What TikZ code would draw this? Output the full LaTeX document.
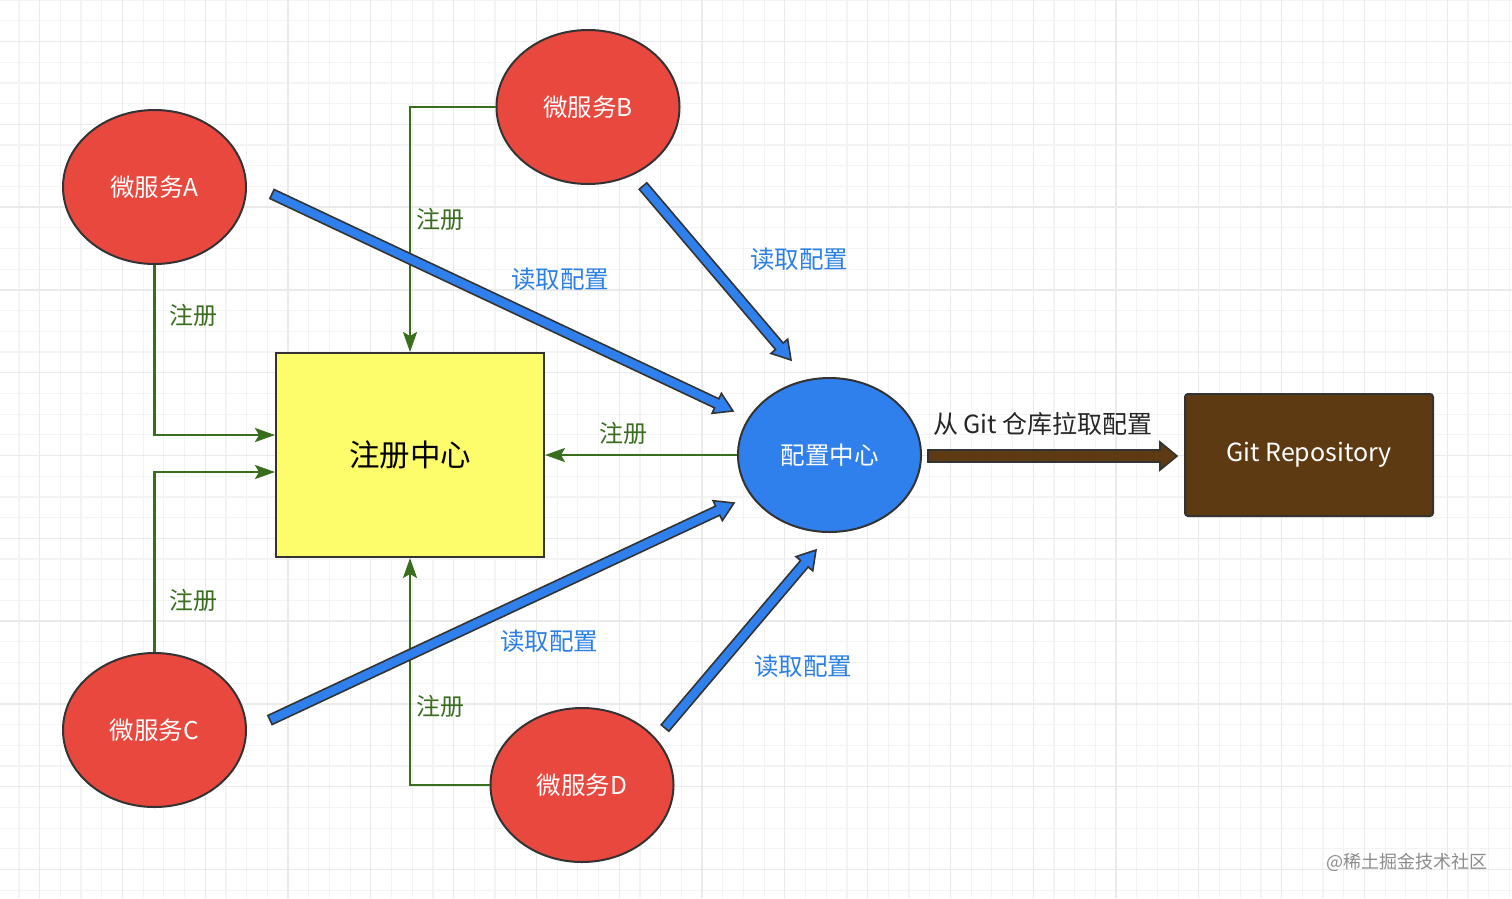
\documentclass[tikz,border=0pt]{standalone}
\usepackage{fontspec}
\setmainfont{Noto Sans CJK SC}
\usetikzlibrary{shapes.geometric,arrows.meta,calc}
\definecolor{svcred}{HTML}{E9483F}
\definecolor{cfgblue}{HTML}{2F80ED}
\definecolor{regyellow}{HTML}{FDFC6A}
\definecolor{gitbrown}{HTML}{5D3A12}
\definecolor{outl}{HTML}{333333}
\definecolor{regreen}{HTML}{3A6E1F}
\definecolor{lblblue}{HTML}{2C7FE3}
\definecolor{gridminor}{HTML}{F3F3F3}
\definecolor{gridmajor}{HTML}{EAEAEA}
\tikzset{
  svc/.style={ellipse, draw=outl, line width=2pt, fill=svcred, minimum width=183pt, minimum height=154pt, inner sep=0pt, text=white, font=\fontsize{24.5}{27}\selectfont},
  cfg/.style={ellipse, draw=outl, line width=2pt, fill=cfgblue, minimum width=183pt, minimum height=154pt, inner sep=0pt, text=white, font=\fontsize{24.5}{27}\selectfont},
  regbox/.style={rectangle, draw=outl, line width=2pt, fill=regyellow, minimum width=268pt, minimum height=204pt, inner sep=0pt, font=\fontsize{30.5}{33}\selectfont},
  gitbox/.style={rectangle, rounded corners=3pt, draw=outl, line width=2pt, fill=gitbrown, minimum width=248pt, minimum height=122pt, inner sep=0pt, text=white, font=\fontsize{25}{28}\selectfont},
  regline/.style={draw=regreen, line width=2.5pt, -{Stealth[length=20pt,width=14pt,inset=4pt]}},
  reglbl/.style={text=regreen, font=\fontsize{24}{27}\selectfont, inner sep=0pt},
  readlbl/.style={text=lblblue, font=\fontsize{24.5}{27}\selectfont, inner sep=0pt},
  gitlbl/.style={text=black!85, font=\fontsize{25}{28}\selectfont, inner sep=0pt},
  wmark/.style={text=black!45, font=\fontsize{18}{20}\selectfont, inner sep=0pt},
}
% #1 from, #2 to, #3 fill, #4 shaft half width, #5 head half width, #6 head length
\newcommand\fatarrow[6]{%
  \coordinate (fa-h) at ($(#2)!#6!(#1)$);
  \draw[fill=#3, draw=outl, line width=1.6pt, line join=miter]
    ($(#1)!#4!90:(#2)$) -- ($(fa-h)!#4!-90:(#1)$) -- ($(fa-h)!#5!-90:(#1)$) -- (#2)
    -- ($(fa-h)!#5!90:(#1)$) -- ($(fa-h)!#4!90:(#1)$) -- ($(#1)!#4!-90:(#2)$) -- cycle;
}
\begin{document}
\begin{tikzpicture}[x=1pt,y=-1pt]
\useasboundingbox (0,0) rectangle (1512,898);
\fill[white] (0,0) rectangle (1512,898);
% grid
\foreach \i in {-2,...,71} {\draw[gridminor, line width=1.2pt] ({39.6+\i*20.7},0) -- ({39.6+\i*20.7},898);}
\foreach \i in {-2,...,42} {\draw[gridminor, line width=1.2pt] (0,{41.5+\i*20.7}) -- (1512,{41.5+\i*20.7});}
\foreach \i in {0,...,18} {\draw[gridmajor, line width=1.3pt] ({39.6+\i*82.8},0) -- ({39.6+\i*82.8},898);}
\foreach \i in {-1,...,10} {\draw[gridmajor, line width=1.3pt] (0,{41.5+\i*82.8}) -- (1512,{41.5+\i*82.8});}

% nodes
\node[regbox] (Z) at (410,455) {注册中心};
\node[svc] (A) at (154.5,187) {微服务A};
\node[svc] (B) at (588,107) {微服务B};
\node[svc] (C) at (154.5,730) {微服务C};
\node[svc] (D) at (582,785) {微服务D};
\node[cfg] (G) at (829.5,455) {配置中心};
\node[gitbox] (R) at (1309,455) {Git Repository};

% registration connectors
\draw[regline] (A.south) |- ($(Z.west)+(0,-20)$);
\draw[regline] (C.north) |- ($(Z.west)+(0,17)$);
\draw[regline] (B.west) -| (Z.north);
\draw[regline] (D.west) -| (Z.south);
\draw[regline] (G.west) -- (Z.east);

\node[reglbl] (l1) at (193,315) {注册};
\node[reglbl] (l2) at (193,600) {注册};
\node[reglbl] (l3) at (440,219) {注册};
\node[reglbl] (l4) at (440,706) {注册};
\node[reglbl] (l5) at (623,433) {注册};

% read-config arrows
\coordinate (a1) at (272,194);
\coordinate (a2) at (733,411);
\coordinate (b1) at (643,186);
\coordinate (b2) at (791,360);
\coordinate (c1) at (270,720);
\coordinate (c2) at (734,503);
\coordinate (d1) at (665,728);
\coordinate (d2) at (816,550);
\fatarrow{a1}{a2}{cfgblue}{5pt}{11pt}{18pt}
\fatarrow{b1}{b2}{cfgblue}{5pt}{11pt}{18pt}
\fatarrow{c1}{c2}{cfgblue}{5pt}{11pt}{18pt}
\fatarrow{d1}{d2}{cfgblue}{5pt}{11pt}{18pt}

\node[readlbl] (r1) at (560,279) {读取配置};
\node[readlbl] (r2) at (799,259) {读取配置};
\node[readlbl] (r3) at (549,641) {读取配置};
\node[readlbl] (r4) at (803,666) {读取配置};

% git arrow
\coordinate (g1) at (928,456);
\coordinate (g2) at (1177,456);
\fatarrow{g1}{g2}{gitbrown}{6pt}{14pt}{17pt}
\node[gitlbl] (gl) at (1043,424) {从 Git 仓库拉取配置};

\node[wmark] (wm) at (1407,862) {@稀土掘金技术社区};
\end{tikzpicture}
\end{document}
